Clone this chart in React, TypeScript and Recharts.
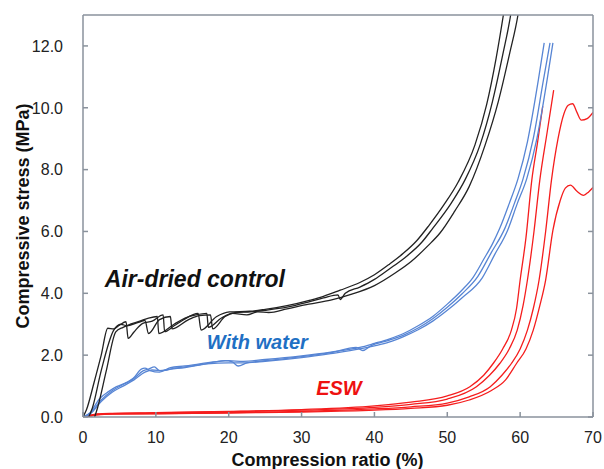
import React from "react";
import { LineChart, Line, XAxis, YAxis, ReferenceDot } from "recharts";

/**
 * Compressive stress vs compression ratio — three sample groups
 * (air-dried control, with water, ESW), several repeat runs each.
 */

type Pt = [number, number];

// x = compression ratio (%), y = compressive stress (MPa)
const airDried1: Pt[] = [
  [0, 0], [0.5, 0.25], [1.5, 1.1], [2.5, 2.0], [3.4, 2.87], [4.2, 2.85], [5, 2.97],
  [5.9, 3.08], [6.2, 2.54], [7, 2.75], [8.2, 3.03], [9.5, 3.1], [11, 3.3], [11.2, 2.76],
  [12.5, 2.95], [13.7, 3.13], [15.8, 3.35], [16.2, 2.81], [18.3, 3.24], [20.1, 3.4],
  [22.9, 3.42], [25, 3.48], [28, 3.6], [31.2, 3.78], [33, 3.9], [35.3, 4.1], [38, 4.35],
  [40, 4.6], [42.1, 4.95], [44, 5.3], [45.8, 5.7], [47.5, 6.2], [49.5, 6.85],
  [51.5, 7.6], [53.8, 8.8], [55.4, 10.1], [56.7, 11.6], [57.7, 13.0], [57.9, 13.3],
];
const airDried2: Pt[] = [
  [0.8, 0], [1.3, 0.3], [2.5, 1.5], [4.2, 2.8], [5.2, 3.0], [6, 2.95], [7.5, 3.05],
  [8.5, 3.12], [9, 2.7], [10.5, 3.15], [12, 3.25], [12.2, 2.85], [14.5, 3.15], [16, 3.28],
  [17.5, 3.3], [17.8, 2.85], [19.5, 3.25], [21, 3.38], [23, 3.4], [25, 3.45], [28, 3.55],
  [31, 3.72], [33, 3.85], [35, 3.95], [35.3, 3.8], [36, 4.0], [38, 4.2], [40, 4.45],
  [42, 4.78], [44, 5.12], [46.5, 5.65], [48, 6.1], [50.5, 6.9], [52.5, 7.7], [54.5, 8.8],
  [56.2, 10.2], [57.6, 11.7], [58.7, 13.0], [58.9, 13.3],
];
const airDried3: Pt[] = [
  [1.6, 0], [2, 0.3], [3.2, 1.5], [4.5, 2.75], [5.5, 2.9], [6.5, 3.0], [7.8, 3.1],
  [9, 3.2], [10.2, 3.25], [10.4, 2.7], [12.5, 3.0], [14, 3.2], [15.5, 3.3], [17, 3.35],
  [17.2, 2.9], [19, 3.2], [20.5, 3.35], [22.5, 3.3], [24, 3.4], [25.5, 3.38], [28, 3.5],
  [31, 3.65], [34, 3.78], [37, 3.98], [40, 4.25], [43, 4.68], [45, 5.02], [47.4, 5.55],
  [49, 5.95], [51, 6.65], [53, 7.45], [55.2, 8.8], [57, 10.2], [58.6, 11.8], [59.7, 13.0],
  [59.9, 13.3],
];

const water1: Pt[] = [
  [0, 0], [1, 0.15], [2.3, 0.6], [3.5, 0.82], [4.6, 0.98], [6, 1.12], [6.9, 1.25],
  [8, 1.55], [8.5, 1.58], [9.2, 1.5], [10.5, 1.45], [12, 1.6], [14, 1.65], [16, 1.72],
  [18, 1.78], [20, 1.82], [22, 1.8], [25, 1.86], [30, 1.98], [34, 2.1], [38, 2.25],
  [40, 2.38], [42, 2.52], [44, 2.7], [46, 2.95], [48, 3.25], [50, 3.65], [52, 4.1],
  [53.5, 4.5], [55, 5.1], [56.2, 5.6], [57.2, 6.1], [58.5, 6.9], [59.7, 7.7], [61, 8.9],
  [62.5, 10.9], [63.3, 12.1],
];
const water2: Pt[] = [
  [0, 0], [1, 0.12], [2.5, 0.55], [4, 0.85], [5.5, 1.05], [7, 1.25], [8.3, 1.5],
  [9, 1.55], [9.8, 1.62], [10.5, 1.5], [12, 1.55], [14, 1.6], [16, 1.68], [19.5, 1.82],
  [20.5, 1.78], [21.3, 1.65], [22.5, 1.75], [25, 1.82], [30, 1.95], [34, 2.08],
  [37.5, 2.25], [38.4, 2.15], [39.5, 2.3], [42, 2.48], [44, 2.65], [46, 2.88], [48, 3.18],
  [50, 3.55], [52, 3.98], [54.2, 4.55], [56, 5.3], [57.9, 6.1], [59.2, 6.9], [60.4, 7.7],
  [61.8, 9.0], [63.2, 10.9], [64.1, 12.1],
];
const water3: Pt[] = [
  [0, 0], [1, 0.1], [2.5, 0.5], [4, 0.8], [5.5, 1.0], [7, 1.2], [8.5, 1.45], [9.5, 1.52],
  [11, 1.5], [12.5, 1.58], [14, 1.62], [17, 1.72], [20, 1.75], [22, 1.75], [25, 1.8],
  [30, 1.92], [34, 2.05], [38, 2.2], [40, 2.3], [42, 2.42], [44, 2.6], [46, 2.82],
  [48, 3.1], [50, 3.45], [52, 3.85], [54.8, 4.5], [56.5, 5.25], [58.3, 6.05], [59.6, 6.9],
  [60.9, 7.7], [62.3, 9.0], [63.7, 10.9], [64.5, 12.1],
];

const esw1: Pt[] = [
  [0, 0], [1, 0.06], [2, 0.1], [4, 0.12], [10, 0.14], [20, 0.18], [30, 0.24], [40, 0.36],
  [45, 0.48], [50, 0.68], [53.1, 0.98], [55, 1.35], [56.3, 1.73], [57.6, 2.2], [58.8, 2.81],
  [59.5, 3.5], [60, 4.43], [60.8, 5.8], [61.6, 7.66], [62.4, 8.9], [63.1, 10.05],
];
const esw2: Pt[] = [
  [0, 0], [1, 0.05], [2, 0.09], [4, 0.11], [10, 0.13], [20, 0.17], [30, 0.22], [40, 0.31],
  [45, 0.41], [50, 0.58], [54, 0.98], [55.8, 1.35], [57.2, 1.73], [58.5, 2.2], [59.6, 2.81],
  [60.4, 3.6], [61, 4.43], [61.9, 6.0], [62.7, 7.66], [63.7, 9.2], [64.6, 10.57],
];
const esw3: Pt[] = [
  [0, 0], [1, 0.04], [2, 0.08], [4, 0.1], [10, 0.11], [20, 0.14], [30, 0.18], [40, 0.26],
  [45, 0.33], [50, 0.45], [53, 0.65], [55.9, 0.98], [57.5, 1.35], [58.8, 1.73], [60, 2.2],
  [61, 2.81], [61.8, 3.5], [62.6, 4.43], [63.5, 6.0], [64.3, 7.66], [65.2, 9.0], [66, 9.8],
  [66.6, 10.08], [67.2, 10.13], [67.8, 9.85], [68.4, 9.6], [69.2, 9.65], [70, 9.85],
];
const esw4: Pt[] = [
  [0, 0], [1, 0.03], [2, 0.07], [4, 0.09], [10, 0.1], [20, 0.13], [30, 0.16], [40, 0.22],
  [45, 0.28], [50, 0.38], [53, 0.55], [56, 0.85], [58, 1.2], [59.5, 1.73], [60.8, 2.2],
  [61.8, 2.81], [62.7, 3.6], [63.5, 4.43], [64.5, 6.04], [65.5, 7.0], [66.2, 7.4],
  [66.9, 7.5], [67.8, 7.3], [68.7, 7.17], [69.4, 7.28], [70, 7.42],
];

const xTicks = [0, 10, 20, 30, 40, 50, 60, 70];
const yTicks = [0, 2, 4, 6, 8, 10, 12];

const FONT = "'Liberation Sans', Arial, Helvetica, sans-serif";
const AXIS = "#8a929c";
const COLOR = { air: "#222222", water: "#5785d4", esw: "#f51d1d" };
const TEXT = { air: "#111111", water: "#1f70c4", esw: "#ee1111" };
const TICK_LEN = 5;
const MARGIN_X = 14; // gap plot bottom -> top of x tick labels
const MARGIN_Y = 20; // gap plot left -> right edge of y tick labels

const toRows = (pts: Pt[]) => pts.map(([x, y]) => ({ x, y }));

const SERIES: { id: string; pts: Pt[]; color: string }[] = [
  { id: "esw1", pts: esw1, color: COLOR.esw },
  { id: "esw2", pts: esw2, color: COLOR.esw },
  { id: "esw3", pts: esw3, color: COLOR.esw },
  { id: "esw4", pts: esw4, color: COLOR.esw },
  { id: "water1", pts: water1, color: COLOR.water },
  { id: "water2", pts: water2, color: COLOR.water },
  { id: "water3", pts: water3, color: COLOR.water },
  { id: "air1", pts: airDried1, color: COLOR.air },
  { id: "air2", pts: airDried2, color: COLOR.air },
  { id: "air3", pts: airDried3, color: COLOR.air },
];

// group labels, anchored at the left end of their baseline (data units)
const NOTES = [
  { text: "Air-dried control", x: 3.0, y: 4.2, size: 23, color: TEXT.air },
  { text: "With water", x: 17.0, y: 2.2, size: 20, color: TEXT.water },
  { text: "ESW", x: 32.0, y: 0.71, size: 20, color: TEXT.esw },
];

// inward tick marks (the figure is a closed box with ticks pointing in)
function BottomTick({ x, y, payload }: any) {
  const base = y - MARGIN_X;
  return (
    <g>
      <line x1={x} x2={x} y1={base} y2={base - TICK_LEN} stroke={AXIS} strokeWidth={1.5} />
      <text x={x} y={y} dy="0.72em" textAnchor="middle" fill="#222" fontSize={16} fontFamily={FONT}>
        {payload.value}
      </text>
    </g>
  );
}

function LeftTick({ x, y, payload }: any) {
  const base = x + MARGIN_Y;
  return (
    <g>
      <line x1={base} x2={base + TICK_LEN} y1={y} y2={y} stroke={AXIS} strokeWidth={1.5} />
      <text x={x} y={y} dy="0.36em" textAnchor="end" fill="#222" fontSize={16} fontFamily={FONT}>
        {Number(payload.value).toFixed(1)}
      </text>
    </g>
  );
}

function TopTick({ x, y }: any) {
  return <line x1={x} x2={x} y1={y} y2={y + TICK_LEN} stroke={AXIS} strokeWidth={1.5} />;
}

function RightTick({ x, y }: any) {
  return <line x1={x} x2={x - TICK_LEN} y1={y} y2={y} stroke={AXIS} strokeWidth={1.5} />;
}

export default function App() {
  return (
    <div style={{ position: "absolute", left: 0, top: 0, background: "#fff" }}>
      <LineChart width={604} height={469} margin={{ top: 0, right: 0, bottom: 0, left: 0 }}>
        <XAxis
          xAxisId={0}
          dataKey="x"
          type="number"
          domain={[0, 70]}
          ticks={xTicks}
          allowDataOverflow
          height={52}
          stroke={AXIS}
          strokeWidth={1.5}
          tickLine={false}
          tickSize={0}
          tickMargin={MARGIN_X}
          tick={<BottomTick />}
          label={() => (
            <text
              x={327.5}
              y={466}
              textAnchor="middle"
              fontFamily={FONT}
              fontWeight="bold"
              fontSize={18}
              fill="#111"
            >
              Compression ratio (%)
            </text>
          )}
        />
        <XAxis
          xAxisId="top"
          orientation="top"
          type="number"
          domain={[0, 70]}
          ticks={xTicks}
          allowDataOverflow
          height={15}
          stroke={AXIS}
          strokeWidth={1.5}
          tickLine={false}
          tickSize={0}
          tickMargin={0}
          tick={<TopTick />}
        />
        <YAxis
          yAxisId={0}
          type="number"
          domain={[0, 13]}
          ticks={yTicks}
          allowDataOverflow
          width={83}
          stroke={AXIS}
          strokeWidth={1.5}
          tickLine={false}
          tickSize={0}
          tickMargin={MARGIN_Y}
          tick={<LeftTick />}
          label={(p: any) => {
            const vb = p.viewBox || {};
            const cy = (vb.y ?? 15) + (vb.height ?? 402) / 2;
            return (
              <text
                x={29}
                y={cy}
                transform={`rotate(-90, 29, ${cy})`}
                textAnchor="middle"
                fontFamily={FONT}
                fontWeight="bold"
                fontSize={18}
                fill="#111"
              >
                Compressive stress (MPa)
              </text>
            );
          }}
        />
        <YAxis
          yAxisId="right"
          orientation="right"
          type="number"
          domain={[0, 13]}
          ticks={yTicks}
          allowDataOverflow
          width={11}
          stroke={AXIS}
          strokeWidth={1.5}
          tickLine={false}
          tickSize={0}
          tickMargin={0}
          tick={<RightTick />}
        />

        {SERIES.map((s) => (
          <Line
            key={s.id}
            data={toRows(s.pts)}
            dataKey="y"
            type="monotone"
            stroke={s.color}
            strokeWidth={1.3}
            dot={false}
            activeDot={false}
            isAnimationActive={false}
          />
        ))}

        {NOTES.map((n) => (
          <ReferenceDot
            key={n.text}
            x={n.x}
            y={n.y}
            r={0}
            fill="none"
            stroke="none"
            label={(p: any) => {
              const vb = p.viewBox || {};
              return (
                <text
                  x={vb.x}
                  y={vb.y}
                  textAnchor="start"
                  fontFamily={FONT}
                  fontWeight="bold"
                  fontStyle="italic"
                  fontSize={n.size}
                  fill={n.color}
                >
                  {n.text}
                </text>
              );
            }}
          />
        ))}
      </LineChart>
    </div>
  );
}
